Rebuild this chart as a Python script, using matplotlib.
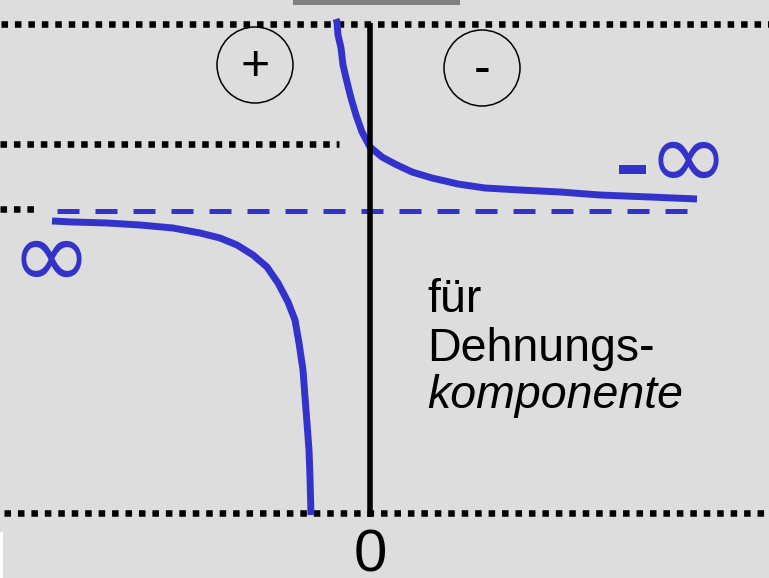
import matplotlib.pyplot as plt
from matplotlib.patches import Circle, Rectangle

# picture coordinates (pixels, y downwards)
W, H = 769, 578
x_zero = 370

# dotted reference levels: (y, x_start, x_end)
dotted_levels = [(24, 1, 769), (144, 0, 339), (209, 0, 35), (513, 4, 769)]

# asymptote (dashed)
asym_y = 211
asym_x = [57, 688]

# upper right branch
upper_x = [336, 337, 338, 341, 343, 347, 351, 356, 362, 370, 382, 395, 412,
           432, 458, 485, 520, 560, 600, 650, 697]
upper_y = [19, 22, 35, 48, 65, 82, 98, 115, 132, 147, 157, 164, 172,
           178, 184, 188, 190, 192, 195, 197, 199]

# lower left branch
lower_x = [52, 73, 107, 140, 173, 200, 220, 237, 253, 267, 278, 288, 295,
           299, 303, 305, 307, 309, 310, 311]
lower_y = [221, 222, 223, 225, 228, 233, 238, 245, 255, 267, 283, 302, 320,
           343, 370, 397, 423, 450, 477, 515]

# sign circles: (x, y, label)
signs = [(255, 65, '+'), (482, 68, '-')]

text_lines = ['für', 'Dehnungs-', 'komponente']
text_styles = ['normal', 'normal', 'italic']
text_base = [312, 361, 408]

blue = '#3333cc'
bg = '#dddddd'
fam = ['Liberation Sans', 'DejaVu Sans']

fig = plt.figure(figsize=(W / 100, H / 100), dpi=100, facecolor=bg)
ax = fig.add_axes([0, 0, 1, 1])
ax.set_xlim(0, W)
ax.set_ylim(H, 0)
ax.axis('off')
ax.set_facecolor(bg)

# bits of frame
ax.add_patch(Rectangle((293, 0), 167, 5, color='#808080', lw=0))
ax.add_patch(Rectangle((0, 532), 3, 46, color='white', lw=0))

for y, xa, xb in dotted_levels:
    ax.plot([xa, xb], [y, y], color='black', lw=4.7,
            linestyle=(0, (1, 1.06)), solid_capstyle='butt', dash_capstyle='butt')

ax.plot(asym_x, [asym_y, asym_y], color=blue, lw=3.6,
        linestyle=(0, (4.4, 3.2)), dash_capstyle='butt')

ax.plot(upper_x, upper_y, color=blue, lw=5, solid_capstyle='butt', solid_joinstyle='round')
ax.plot(lower_x, lower_y, color=blue, lw=5, solid_capstyle='butt', solid_joinstyle='round')

ax.plot([x_zero, x_zero], [23, 517], color='black', lw=4, solid_capstyle='butt', zorder=5)

for cx, cy, lab in signs:
    ax.add_patch(Circle((cx, cy), 38, fill=False, ec='black', lw=1.1))
    ax.text(cx, cy + 2, lab, ha='center', va='center', fontsize=36, family=fam)

ax.text(x_zero, 571, '0', ha='center', va='baseline', fontsize=43, family=fam)

for s, st, yb in zip(text_lines, text_styles, text_base):
    ax.text(427, yb, s, ha='left', va='baseline', fontsize=33.5, style=st, family=fam)

# infinity labels
ax.text(51, 261, '\u221e', ha='center', va='center', fontsize=70, color=blue,
        family=['DejaVu Sans'])
ax.text(688, 162, '\u221e', ha='center', va='center', fontsize=70, color=blue,
        family=['DejaVu Sans'])
ax.add_patch(Rectangle((619, 165), 27, 9, color=blue, lw=0))

fig.savefig('out.png', dpi=100, facecolor=bg)
